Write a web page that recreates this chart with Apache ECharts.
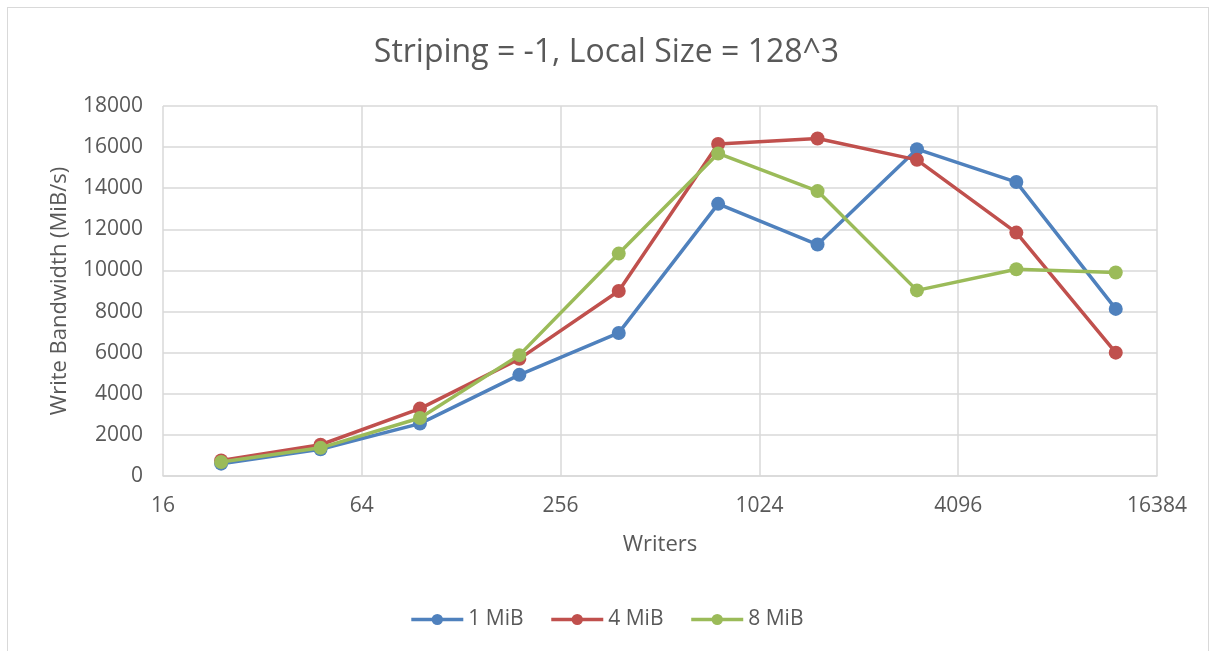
<!DOCTYPE html>
<html>
<head>
<meta charset="utf-8">
<script src="https://cdn.jsdelivr.net/npm/echarts@6/dist/echarts.min.js"></script>
<style>
  html, body { margin: 0; padding: 0; background: #fff; overflow: hidden; }
  .frame {
    position: absolute; left: 7px; top: 7px; width: 1202px; height: 700px;
    border: 1px solid #d9d9d9; box-sizing: border-box;
  }
  #chart { position: absolute; left: 0; top: 0; width: 1213px; height: 651px; }
</style>
</head>
<body>
<div class="frame"></div>
<div id="chart"></div>
<script>
// writers (x, log scale)
var writers = [24, 48, 96, 192, 384, 768, 1536, 3072, 6144, 12288];
var xTicks = [16, 64, 256, 1024, 4096, 16384];
// write bandwidth, MiB/s
var mib1 = [600, 1300, 2550, 4920, 6960, 13240, 11260, 15900, 14300, 8130];
var mib4 = [760, 1520, 3280, 5700, 9000, 16150, 16420, 15380, 11840, 6000];
var mib8 = [680, 1370, 2820, 5880, 10820, 15690, 13860, 9030, 10060, 9900];
var seriesNames = ['1 MiB', '4 MiB', '8 MiB'];
var colors = ['#4f81bd', '#c0504d', '#9bbb59'];

var font = 'Open Sans';
var txt = '#595959';

function pairs(vals) {
  return vals.map(function (v, i) { return [writers[i], v]; });
}

var chart = echarts.init(document.getElementById('chart'));
chart.setOption({
  animation: false,
  color: colors,
  title: {
    text: 'Striping = -1, Local Size = 128^3',
    left: 'center',
    top: 32,
    textStyle: { color: txt, fontFamily: font, fontSize: 32, fontWeight: 'normal' }
  },
  grid: { left: 163, right: 56, top: 106, bottom: 175 },
  legend: {
    bottom: 16,
    left: 'center',
    itemWidth: 52,
    itemHeight: 14,
    itemGap: 26,
    data: seriesNames,
    lineStyle: { width: 3.5 },
    textStyle: { color: txt, fontFamily: font, fontSize: 21 }
  },
  xAxis: {
    type: 'log',
    logBase: 4,
    min: xTicks[0],
    max: xTicks[xTicks.length - 1],
    name: 'Writers',
    nameLocation: 'middle',
    nameGap: 58,
    nameTextStyle: { color: txt, fontFamily: font, fontSize: 22 },
    axisLine: { show: true, lineStyle: { color: '#d9d9d9', width: 1.5 } },
    axisTick: { show: false },
    axisLabel: { color: txt, fontFamily: font, fontSize: 21, margin: 20, formatter: function (v) { return String(Math.round(v)); } },
    splitLine: { show: true, lineStyle: { color: '#d9d9d9', width: 1.5 } }
  },
  yAxis: {
    type: 'value',
    min: 0,
    max: 18000,
    interval: 2000,
    name: 'Write Bandwidth (MiB/s)',
    nameLocation: 'middle',
    nameGap: 92,
    nameTextStyle: { color: txt, fontFamily: font, fontSize: 22 },
    axisLine: { show: false },
    axisTick: { show: false },
    axisLabel: { color: txt, fontFamily: font, fontSize: 21, margin: 20, formatter: function (v) { return String(v); } },
    splitLine: { show: true, lineStyle: { color: '#d9d9d9', width: 1.5 } }
  },
  series: [mib1, mib4, mib8].map(function (vals, i) {
    return {
      name: seriesNames[i],
      type: 'line',
      data: pairs(vals),
      symbol: 'circle',
      symbolSize: 14,
      lineStyle: { width: 3.5, color: colors[i] },
      itemStyle: { color: colors[i] },
      z: 2 + i
    };
  })
});
</script>
</body>
</html>
